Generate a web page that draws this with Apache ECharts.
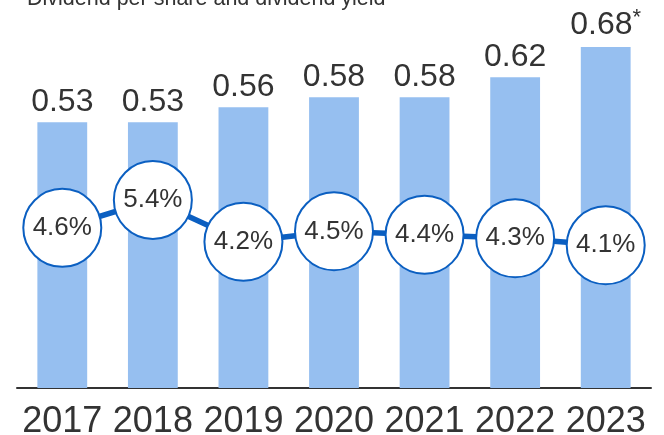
<!DOCTYPE html>
<html>
<head>
<meta charset="utf-8">
<script src="https://cdn.jsdelivr.net/npm/echarts@6/dist/echarts.min.js"></script>
<style>
  html, body { margin: 0; padding: 0; background: #fff; }
  #chart { width: 664px; height: 435px; }
</style>
</head>
<body>
<div id="chart"></div>
<script>
const years = ['2017', '2018', '2019', '2020', '2021', '2022', '2023'];
const dividend = [0.53, 0.53, 0.56, 0.58, 0.58, 0.62, 0.68];
const yieldPct = [4.6, 5.4, 4.2, 4.5, 4.4, 4.3, 4.1];

const FONT = '"Liberation Sans", Arial, sans-serif';
const BLUE = '#0b5fc1';

const chart = echarts.init(document.getElementById('chart'));
chart.setOption({
    animation: false,
    graphic: [{
        type: 'text',
        left: 27,
        top: -12,
        style: {
            text: 'Dividend per share and dividend yield',
            font: 'normal 21.5px ' + FONT,
            fill: '#333',
        },
    }],
    grid: { left: 17, right: 13, top: 12, bottom: 47, outerBoundsMode: 'none' },
    xAxis: {
        type: 'category',
        data: years,
        axisTick: { show: false },
        axisLine: { lineStyle: { color: '#333', width: 2 } },
        axisLabel: { interval: 0, fontFamily: FONT, fontSize: 36, color: '#333', margin: 16 },
    },
    yAxis: [
        { type: 'value', min: 0, max: 0.75, show: false },
        { type: 'value', min: 0, max: 10.8, show: false },
    ],
    series: [
        {
            type: 'bar',
            data: dividend,
            barWidth: '55%',
            itemStyle: { color: '#96bff0' },
            label: {
                show: true,
                position: 'top',
                distance: 4,
                fontFamily: FONT,
                fontSize: 32,
                color: '#333',
                formatter: (p) => p.dataIndex === dividend.length - 1
                    ? '{a|' + p.value.toFixed(2) + '}{b|*}'
                    : p.value.toFixed(2),
                rich: {
                    a: { fontFamily: FONT, fontSize: 32, color: '#333' },
                    b: { fontFamily: FONT, fontSize: 22, color: '#333', padding: [0, 0, 14, 0] },
                },
            },
        },
        {
            type: 'line',
            yAxisIndex: 1,
            data: yieldPct,
            symbol: 'circle',
            symbolSize: 78,
            showAllSymbol: true,
            lineStyle: { color: BLUE, width: 5.5 },
            itemStyle: { color: '#fff', borderColor: BLUE, borderWidth: 2 },
            label: {
                show: true,
                position: 'inside',
                fontFamily: FONT,
                fontSize: 26,
                color: '#333',
                formatter: (p) => p.value.toFixed(1) + '%',
            },
            labelLayout: { hideOverlap: false },
            z: 3,
        },
    ],
});
</script>
</body>
</html>
